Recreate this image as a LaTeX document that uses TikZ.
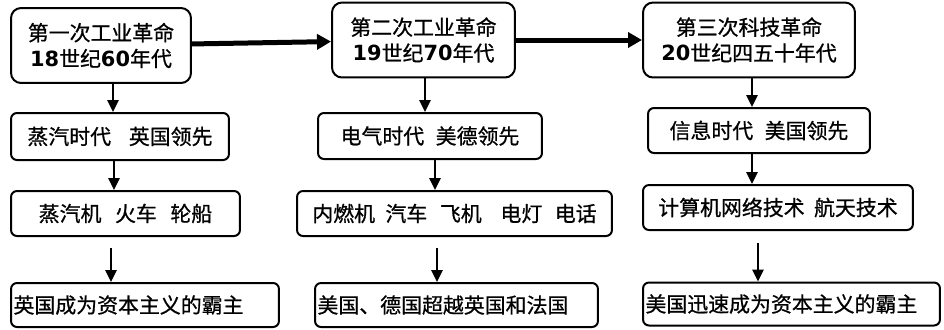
\documentclass[tikz,border=0pt]{standalone}
\usepackage{fontspec}
\setmainfont{Noto Sans CJK SC}[FakeBold=0.8]
\newfontfamily\numfont{DejaVu Sans}
\usetikzlibrary{arrows.meta}
\newcommand\shuzi[1]{{\numfont\bfseries #1}}

\begin{document}
\begin{tikzpicture}[x=0.02cm, y=-0.02cm,
	box/.style={draw, line width=0.04cm, rounded corners=0.12cm, inner sep=0.05cm, font=\fontsize{11.9pt}{14.7pt}\selectfont},
	topbox/.style={box, rounded corners=0.2cm, align=center},
	endbox/.style={box, align=left},
	down/.style={-{Triangle[length=0.24cm, width=0.22cm]}, line width=0.05cm},
	across/.style={-{Triangle[length=0.28cm, width=0.3cm]}, line width=0.1cm}]
	\useasboundingbox (0,0) rectangle (944,329);
	\node[topbox, minimum width=3.6cm, minimum height=1.5cm] (g1) at (101,45.5) {第一次工业革命\\ \shuzi{18}世纪\shuzi{60}年代};
	\node[box, minimum width=4.36cm, minimum height=0.94cm] (s1) at (120,136.5) {蒸汽时代\hspace{0.85em}英国领先};
	\node[box, minimum width=4.58cm, minimum height=0.9cm] (t1) at (125.5,213.5) {蒸汽机\hspace{0.65em}火车\hspace{0.65em}轮船};
	\node[endbox, text width=5.26cm, minimum height=0.88cm] (r1) at (145,305) {英国成为资本主义的霸主};
	\node[topbox, minimum width=3.66cm, minimum height=1.5cm] (g2) at (423.5,40) {第二次工业革命\\ \shuzi{19}世纪\shuzi{70}年代};
	\node[box, minimum width=4.48cm, minimum height=0.92cm] (s2) at (430,136) {电气时代\hspace{0.55em}美德领先};
	\node[box, minimum width=6.3cm, minimum height=0.9cm] (t2) at (454.5,213.5) {内燃机\hspace{0.5em}汽车\hspace{0.6em}飞机\hspace{0.9em}电灯\hspace{0.6em}电话};
	\node[endbox, text width=5.56cm, minimum height=0.88cm] (r2) at (456.5,305) {美国、德国超越英国和法国};
	\node[topbox, minimum width=4.24cm, minimum height=1.5cm] (g3) at (749,40) {第三次科技革命\\ \shuzi{20}世纪四五十年代};
	\node[box, minimum width=4.44cm, minimum height=0.9cm] (s3) at (759,130.5) {信息时代\hspace{0.55em}美国领先};
	\node[box, minimum width=5.4cm, minimum height=0.9cm] (t3) at (778,207.5) {计算机网络技术\hspace{0.45em}航天技术};
	\node[endbox, text width=5.84cm, minimum height=0.86cm] (r3) at (791.5,304) {美国迅速成为资本主义的霸主};
	\coordinate (f1) at (111,248);
	\coordinate (f2) at (437,248);
	\coordinate (f3) at (758,243);
	\draw[across] (g1) -- (g2);
	\draw[across] (g2) -- (g3);
	\draw[down] (g1.south -| 113,0) -- (s1.north -| 113,0);
	\draw[down] (s1.south -| 114,0) -- (t1.north -| 114,0);
	\draw[down] (f1) -- (r1.north -| f1);
	\draw[down] (g2.south -| 425,0) -- (s2.north -| 425,0);
	\draw[down] (s2.south -| 435,0) -- (t2.north -| 435,0);
	\draw[down] (f2) -- (r2.north -| f2);
	\draw[down] (g3.south -| 752,0) -- (s3.north -| 752,0);
	\draw[down] (s3.south -| 752,0) -- (t3.north -| 752,0);
	\draw[down] (f3) -- (r3.north -| f3);
\end{tikzpicture}
\end{document}
